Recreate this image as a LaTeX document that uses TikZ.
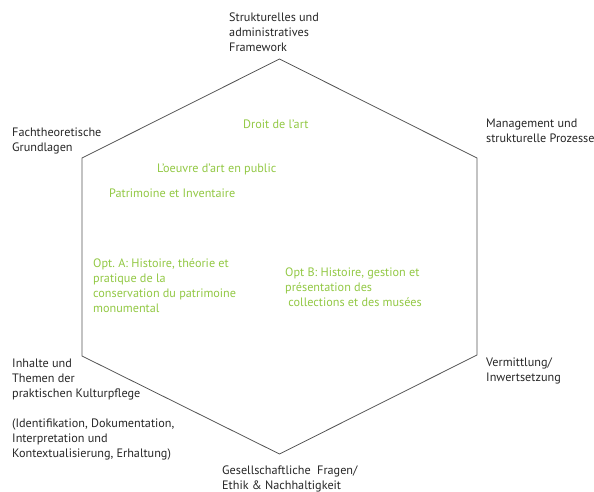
\documentclass[tikz,border=0pt]{standalone}
\usepackage{fontspec}
\setmainfont{PT Sans}
\usepackage{tikz}
\usetikzlibrary{positioning}
\definecolor{leafgreen}{HTML}{92C844}
\definecolor{edgegray}{HTML}{555555}
\frenchspacing

\begin{document}
\begin{tikzpicture}[x=1pt, y=-1pt]
        \tikzstyle{every node}=[inner sep=0pt, anchor=north west, align=left, font=\fontsize{12.2}{15}\selectfont]
        \tikzstyle{area}=[text=black!85]
        \tikzstyle{topic}=[text=leafgreen]

        \useasboundingbox (0,0) rectangle (594,492);

        % hexagon
        \coordinate (top)   at (279.5,59);
        \coordinate (upr)   at (477,158);
        \coordinate (lowr)  at (477,355);
        \coordinate (bot)   at (279.5,454);
        \coordinate (lowl)  at (82,356);
        \coordinate (upl)   at (82,158);
        \draw[edgegray, line width=0.8pt] (top) -- (upr) -- (lowr) -- (bot) -- (lowl) -- (upl) -- cycle;

        % areas at the corners
        \node (framework)  [area] at (229,13)  {Strukturelles und\\administratives\\Framework};
        \node (theory)     [area] at (12,128)  {Fachtheoretische\\Grundlagen};
        \node (management) [area] at (486,119) {Management und\\strukturelle Prozesse};
        \node (practice)   [area] at (12,359)  {Inhalte und\\Themen der\\praktischen Kulturpflege\\[15pt](Identifikation, Dokumentation,\\Interpretation und\\Kontextualisierung, Erhaltung)};
        \node (society)    [area] at (222,466) {Gesellschaftliche\ \ Fragen/\\Ethik \& Nachhaltigkeit};
        \node (mediation)  [area] at (486,358) {Vermittlung/\\Inwertsetzung};

        % topics inside
        \node (law)        [topic] at (243,120) {Droit de l'art};
        \node (public)     [topic] at (157,164) {L'oeuvre d'art en public};
        \node (heritage)   [topic] at (109,189) {Patrimoine et Inventaire};
        \node (optA)       [topic] at (93,259)  {Opt. A: Histoire, théorie et\\pratique de la\\conservation du patrimoine\\monumental};
        \node (optB)       [topic] at (285,268) {Opt B: Histoire, gestion et\\présentation des\\\ collections et des musées};

    \end{tikzpicture}
\end{document}
